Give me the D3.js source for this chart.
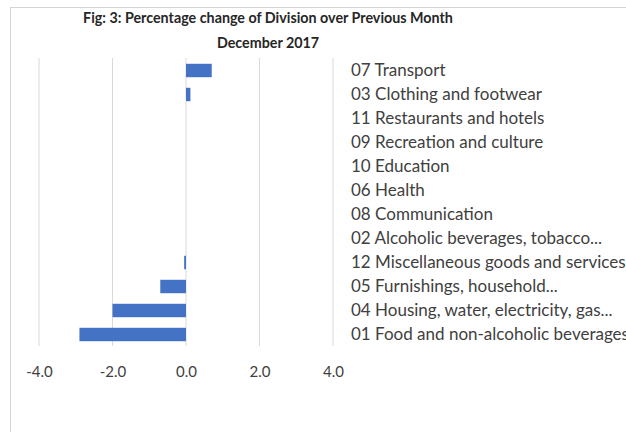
<!DOCTYPE html>
<html>
<head>
<meta charset="utf-8">
<script src="https://cdn.jsdelivr.net/npm/d3@7"></script>
<style>
  body { margin: 0; background: #fff; }
  svg { display: block; font-family: Lato, "Open Sans", sans-serif; }
</style>
</head>
<body>
<div id="chart"></div>
<script>
// chart size
const width = 626;
const height = 432;

// data, top row first
const categories = [
  "07 Transport",
  "03 Clothing and footwear",
  "11 Restaurants and hotels",
  "09 Recreation and culture",
  "10 Education",
  "06 Health",
  "08 Communication",
  "02 Alcoholic beverages, tobacco...",
  "12 Miscellaneous goods and services",
  "05 Furnishings, household...",
  "04 Housing, water, electricity, gas...",
  "01 Food and non-alcoholic beverages"
];
const values = [0.7, 0.12, 0, 0, 0, 0, 0, 0, -0.05, -0.7, -2.0, -2.9];
const xTicks = [-4, -2, 0, 2, 4];
const titleLines = ["Fig: 3: Percentage change of Division over Previous Month", "December 2017"];

const data = categories.map((c, i) => ({name: c, value: values[i]}));

const svg = d3.select("#chart")
  .append("svg")
  .attr("width", width)
  .attr("height", height);

// outer chart border (runs off right and bottom, as in the original)
svg.append("rect")
  .attr("x", 10.5)
  .attr("y", 7.5)
  .attr("width", 700)
  .attr("height", 500)
  .attr("fill", "none")
  .attr("stroke", "#d4d4d4");

// title
svg.append("g")
  .selectAll("text")
  .data(titleLines)
  .enter()
  .append("text")
    .attr("x", 268)
    .attr("y", (d, i) => 23 + i * 25)
    .attr("text-anchor", "middle")
    .attr("font-size", "14.3px")
    .attr("font-weight", "bold")
    .attr("fill", "#262626")
    .text(d => d);

// scales
const xScale = d3.scaleLinear()
  .domain([-4, 4])
  .range([39, 333]);

const yScale = d3.scaleBand()
  .domain(categories)
  .range([58.5, 346.5])
  .paddingInner(0.44)
  .paddingOuter(0.22);

// vertical gridlines
svg.append("g")
  .selectAll("line")
  .data(xTicks)
  .enter()
  .append("line")
    .attr("x1", d => xScale(d))
    .attr("x2", d => xScale(d))
    .attr("y1", 58)
    .attr("y2", 346)
    .attr("stroke", "#d9d9d9")
    .attr("stroke-width", 1);

// bars
svg.selectAll(".bar")
  .data(data)
  .enter()
  .append("rect")
    .attr("class", "bar")
    .attr("x", d => xScale(Math.min(0, d.value)))
    .attr("y", d => yScale(d.name))
    .attr("width", d => Math.abs(xScale(d.value) - xScale(0)))
    .attr("height", yScale.bandwidth())
    .attr("fill", "#4472c4");

// x axis labels (plain hyphen for minus, like the original)
const xAxis = svg.append("g")
  .attr("transform", "translate(0,366)")
  .call(d3.axisBottom(xScale)
    .tickValues(xTicks)
    .tickSize(0)
    .tickPadding(0)
    .tickFormat(d => d.toFixed(1)));
xAxis.select(".domain").remove();
xAxis.selectAll("text")
  .attr("font-size", "15px")
  .attr("font-family", "Lato, sans-serif")
  .attr("fill", "#404040");

// category labels on the right
const yAxis = svg.append("g")
  .attr("transform", "translate(351,0)")
  .call(d3.axisRight(yScale).tickSize(0).tickPadding(0));
yAxis.select(".domain").remove();
yAxis.selectAll("text")
  .attr("font-size", "17px")
  .attr("font-family", "Lato, sans-serif")
  .attr("fill", "#404040");
</script>
</body>
</html>
